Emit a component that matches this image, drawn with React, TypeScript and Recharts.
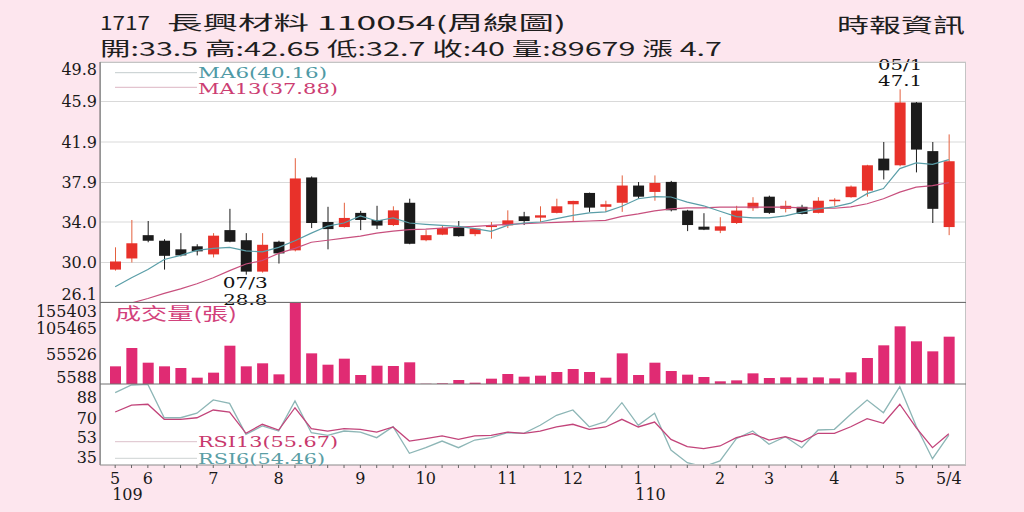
import React from 'react'
import { ComposedChart, Bar, Line, XAxis, YAxis, CartesianGrid } from 'recharts'

// 1717 長興材料, weekly candles, 109/5 .. 110/5
const X_LABELS = [
  '5', '', '6', '', '', '', '7', '', '', '', '8', '', '', '', '', '9', '', '', '', '10',
  '', '', '', '', '11', '', '', '', '12', '', '', '', '1', '', '', '', '', '2', '', '',
  '3', '', '', '', '4', '', '', '', '5', '', '', '5/4',
]
const YEAR_LABELS: Record<number, string> = { 0: '109', 32: '110' }

const OPEN = [
  29.3, 30.4, 32.7, 32.15, 31.3, 31.6, 30.8, 33.2, 32.2, 29.1, 32.05, 31.2, 38.4, 34.0, 33.5, 34.9, 34.2, 33.7, 35.9, 32.2,
  32.75, 33.5, 32.8, 33.5, 33.67, 34.56, 34.43, 34.9, 35.75, 36.87, 35.5, 35.9, 37.6, 36.97, 37.96, 35.13, 33.54, 33.14, 33.9, 35.36,
  36.5, 35.3, 35.5, 34.9, 36.05, 36.45, 37.1, 40.26, 39.6, 45.8, 41.0, 33.5,
]
const HIGH = [
  31.5, 34.2, 34.1, 32.3, 32.9, 31.8, 32.9, 35.3, 32.9, 32.9, 32.15, 40.3, 38.5, 35.5, 35.9, 35.1, 35.6, 35.55, 36.3, 33.2,
  33.7, 34.1, 33.4, 34.0, 35.15, 35.0, 35.55, 36.3, 36.1, 36.9, 36.1, 38.6, 37.95, 38.6, 38.06, 35.2, 34.87, 34.47, 35.6, 36.45,
  36.6, 36.1, 35.7, 36.45, 36.35, 37.6, 39.65, 41.9, 47.1, 45.85, 41.9, 42.65,
]
const LOW = [
  29.2, 30.0, 32.0, 29.3, 30.6, 30.7, 30.5, 32.0, 28.8, 29.0, 29.9, 31.1, 33.4, 31.3, 33.45, 33.2, 33.3, 33.6, 31.8, 32.1,
  32.7, 32.55, 32.6, 32.35, 33.4, 33.7, 34.0, 34.85, 34.1, 35.0, 35.0, 35.0, 36.3, 36.1, 35.05, 33.1, 33.2, 32.9, 33.8, 35.1,
  34.8, 34.95, 34.75, 34.85, 35.6, 36.4, 36.5, 38.2, 39.5, 38.9, 33.9, 32.7,
]
const CLOSE = [
  30.1, 31.9, 32.15, 30.66, 30.7, 31.1, 32.65, 32.05, 29.1, 31.75, 30.9, 38.3, 33.9, 33.3, 34.4, 34.2, 33.65, 35.15, 31.85, 32.7,
  33.4, 32.6, 33.35, 33.67, 34.16, 34.1, 34.66, 35.55, 36.08, 35.42, 35.75, 37.6, 36.5, 37.86, 35.16, 33.7, 33.24, 33.57, 35.13, 35.9,
  34.9, 35.6, 34.8, 36.1, 36.2, 37.5, 39.6, 39.1, 45.8, 41.15, 35.3, 40,
]
const MA6 = [
  27.6, 28.5, 29.3, 30.3, 30.7, 31.2, 31.4, 31.5, 31.15, 31.05, 31.5, 32.15, 32.9, 33.6, 33.9, 34.6, 34.1, 34.4, 33.9, 33.77,
  33.67, 33.57, 33.34, 33.08, 33.67, 33.9, 34.0, 34.33, 34.66, 34.9, 35.0, 35.55, 36.3, 36.5, 36.47, 35.96, 35.6, 35.06, 34.53, 34.4,
  34.4, 34.6, 34.97, 35.3, 35.5, 35.86, 36.8, 37.3, 39.27, 39.83, 39.7, 40.16,
]
const MA13 = [
  25.6, 26.0, 26.45, 26.95, 27.4, 27.9, 28.5, 29.2, 29.85, 30.2, 30.9, 31.4, 32.0, 32.2, 32.4, 32.6, 32.9, 33.1, 33.25, 33.3,
  33.4, 33.5, 33.57, 33.67, 33.77, 33.83, 33.9, 33.97, 34.03, 34.1, 34.16, 34.56, 34.8, 35.1, 35.3, 35.4, 35.4, 35.46, 35.46, 35.46,
  35.46, 35.46, 35.4, 35.36, 35.36, 35.5, 35.8, 36.3, 36.95, 37.45, 37.6, 37.88,
]
const VOLUME = [
  33500, 68200, 40400, 33500, 30300, 12000, 21500, 72600, 33500, 39200, 18300, 155403, 58100, 36600, 48000, 17100, 34700, 34100, 41100, 500,
  1300, 7600, 2500, 10100, 19000, 13900, 15800, 22700, 28400, 22700, 12000, 58100, 17100, 40400, 24600, 17700, 13300, 5100, 6900, 20200,
  11400, 12600, 12000, 12600, 10700, 22100, 49300, 73300, 109300, 80900, 61900, 89679,
]
const RSI6 = [
  92.3, 99.1, 99.6, 70.0, 70.0, 74.0, 85.8, 82.8, 55.3, 62.7, 58.2, 84.9, 56.7, 54.4, 58.2, 57.3, 52.3, 62.0, 38.4, 43.4,
  49.3, 43.4, 50.2, 52.3, 56.7, 56.2, 63.3, 72.2, 76.9, 62.0, 66.5, 83.4, 63.3, 74.0, 41.3, 30.0, 26.5, 31.6, 51.4, 58.2,
  46.4, 53.2, 43.4, 59.1, 59.7, 73.1, 85.8, 74.5, 97.6, 62.7, 33.6, 54.46,
]
const RSI13 = [
  75.1, 81.3, 82.0, 68.6, 68.6, 70.0, 76.9, 75.1, 56.2, 64.2, 59.1, 78.9, 60.3, 58.2, 60.3, 59.7, 57.3, 61.8, 49.3, 51.4,
  53.8, 50.8, 53.8, 54.4, 57.3, 56.2, 58.2, 61.8, 64.2, 59.7, 61.8, 68.6, 61.8, 66.2, 50.8, 44.3, 42.5, 44.9, 52.3, 55.8,
  50.2, 53.2, 48.7, 56.2, 56.2, 62.0, 69.2, 65.1, 82.0, 61.2, 43.4, 55.67,
]

const PRICE_TICKS = [26.1, 30.0, 34.0, 37.9, 41.9, 45.9, 49.8]
const VOL_TICKS = [5588, 55526, 105465, 155403]
const RSI_TICKS = [35, 53, 70, 88]

const LOW_MARK = { index: 8, date: '07/3', value: '28.8' }
const HIGH_MARK = { index: 48, date: '05/1', value: '47.1' }

const data = OPEN.map((o, i) => ({
  i,
  open: o,
  high: HIGH[i],
  low: LOW[i],
  close: CLOSE[i],
  range: [LOW[i], HIGH[i]],
  ma6: MA6[i],
  ma13: MA13[i],
  vol: VOLUME[i],
  rsi6: RSI6[i],
  rsi13: RSI13[i],
}))

const BG = '#fde6ee'
const RED = '#e8312a'
const WICK_RED = '#e4603e'
const BLACK = '#1b1b1b'
const NUM_FONT = '"DejaVu Serif", serif'
const CJK_FONT = '"Noto Sans CJK TC", sans-serif'
const MARGIN = { top: 0, right: 58, bottom: 0, left: 0 }
const PAD = { left: 7, right: 9 }

function Candle(props: any) {
  const { x, y, width, height, payload, index } = props
  const top = Math.min(y, y + height)
  const bot = Math.max(y, y + height)
  const k = (bot - top) / (payload.high - payload.low)
  const py = (v: number) => top + (payload.high - v) * k
  const up = payload.close >= payload.open
  const cx = x + width / 2
  const bTop = py(Math.max(payload.open, payload.close))
  const bBot = py(Math.min(payload.open, payload.close))
  const label = { fontFamily: NUM_FONT, fontSize: 14, fill: '#111', textAnchor: 'middle' as const }
  return (
    <g>
      <line x1={cx} x2={cx} y1={top} y2={bot} stroke={up ? WICK_RED : BLACK} strokeWidth={1} />
      <rect x={x} y={bTop} width={width} height={Math.max(1.5, bBot - bTop)} fill={up ? RED : BLACK} />
      {index === LOW_MARK.index && (
        <g>
          <text x={cx - 1} y={bot + 13.5} {...label} textLength={45} lengthAdjust="spacingAndGlyphs">{LOW_MARK.date}</text>
          <text x={cx - 1} y={bot + 30} {...label} textLength={44} lengthAdjust="spacingAndGlyphs">{LOW_MARK.value}</text>
        </g>
      )}
      {index === HIGH_MARK.index && (
        <g>
          <text x={cx} y={top - 19.5} {...label} textLength={44} lengthAdjust="spacingAndGlyphs">{HIGH_MARK.date}</text>
          <text x={cx} y={top - 3} {...label} textLength={44} lengthAdjust="spacingAndGlyphs">{HIGH_MARK.value}</text>
        </g>
      )}
    </g>
  )
}

const yTick = (lo: number, hi: number, fmt: (v: number) => string) => (props: any) => {
  const { x, y, payload } = props
  const yy = Math.min(Math.max(y, lo), hi)
  return (
    <text x={x} y={yy} dy="0.36em" textAnchor="end" fontFamily={NUM_FONT} fontSize={16} fill="#1a1a1a">
      {fmt(payload.value)}
    </text>
  )
}

function MonthTick(props: any) {
  const { x, y, payload } = props
  const i = payload.value as number
  const m = X_LABELS[i]
  const yr = YEAR_LABELS[i]
  return (
    <g>
      <line x1={x} x2={x} y1={y} y2={y + 3} stroke="#666" />
      {m && (
        <text x={x} y={y + 18.5} textAnchor="middle" fontFamily={NUM_FONT} fontSize={16} fill="#1a1a1a">{m}</text>
      )}
      {yr && (
        <text x={x - 3} y={y + 34.5} textAnchor="start" fontFamily={NUM_FONT} fontSize={16} fill="#1a1a1a">{yr}</text>
      )}
    </g>
  )
}

export default function App() {
  return (
    <div style={{ position: 'absolute', left: 0, top: 0, width: 1024, height: 512, background: BG, overflow: 'hidden' }}>
      <div style={{ position: 'absolute', left: 100, top: 62, width: 866, height: 403, background: '#fff' }} />

      {/* volume */}
      <div style={{ position: 'absolute', left: 0, top: 302 }}>
        <ComposedChart width={1024} height={92} data={data} margin={{ ...MARGIN, bottom: 10 }}>
          <XAxis dataKey="i" hide scale="band" padding={PAD} />
          <YAxis
            width={100}
            domain={[0, 155403]}
            ticks={VOL_TICKS}
            interval={0}
            allowDataOverflow
            axisLine={false}
            tickLine={false}
            tickSize={0}
            tickMargin={3}
            tick={yTick(9, 75, (v) => String(v))}
          />
          <Bar dataKey="vol" fill="#e02b73" barSize={11} isAnimationActive={false} />
        </ComposedChart>
      </div>

      {/* RSI */}
      <div style={{ position: 'absolute', left: 0, top: 384 }}>
        <ComposedChart width={1024} height={128} data={data} margin={MARGIN}>
          <XAxis
            dataKey="i"
            scale="band"
            padding={PAD}
            interval={0}
            height={47}
            tickSize={0}
            tickMargin={0}
            tickLine={false}
            axisLine={{ stroke: '#8a8a8a' }}
            tick={<MonthTick />}
          />
          <YAxis
            width={100}
            domain={[28, 100]}
            ticks={RSI_TICKS}
            interval={0}
            allowDataOverflow
            axisLine={false}
            tickLine={false}
            tickSize={0}
            tickMargin={3}
            tick={yTick(9, 74, (v) => String(v))}
          />
          <Line dataKey="rsi6" stroke="#8db6b6" strokeWidth={1.3} dot={false} isAnimationActive={false} />
          <Line dataKey="rsi13" stroke="#c2447a" strokeWidth={1.3} dot={false} isAnimationActive={false} />
        </ComposedChart>
      </div>

      {/* price */}
      <div style={{ position: 'absolute', left: 0, top: 40 }}>
        <ComposedChart width={1024} height={280} data={data} margin={{ ...MARGIN, top: 22, bottom: 18 }}>
          <CartesianGrid vertical={false} stroke="#d9d9d9" />
          <XAxis dataKey="i" hide scale="band" padding={PAD} />
          <YAxis
            width={100}
            domain={[26.1, 49.8]}
            ticks={PRICE_TICKS}
            interval={0}
            allowDataOverflow
            axisLine={false}
            tickLine={false}
            tickSize={0}
            tickMargin={3}
            tick={yTick(29, 254, (v) => v.toFixed(1))}
          />
          <YAxis yAxisId="c" hide domain={[26.1, 49.8]} />
          <Bar yAxisId="c" dataKey="range" barSize={11} shape={(p: any) => <Candle {...p} />} isAnimationActive={false} />
          <Line dataKey="ma13" stroke="#c8507e" strokeWidth={1.2} dot={false} isAnimationActive={false} />
          <Line dataKey="ma6" stroke="#5a9ea8" strokeWidth={1.2} dot={false} isAnimationActive={false} />
        </ComposedChart>
      </div>

      <svg width={1024} height={512} style={{ position: 'absolute', left: 0, top: 0, pointerEvents: 'none' }}>
        {/* frame */}
        <rect x={100.5} y={62.5} width={865} height={402} fill="none" stroke="#c4c4c4" />
        <line x1={100} x2={100} y1={62} y2={465} stroke="#666" />
        <line x1={100} x2={966} y1={302.5} y2={302.5} stroke="#707070" />
        <line x1={100} x2={966} y1={384} y2={384} stroke="#707070" />

        {/* header */}
        <g fontFamily={CJK_FONT} fontSize={19} fill="#1e1e1e">
          <text x={100} y={30} textLength={50} lengthAdjust="spacingAndGlyphs">1717</text>
          <text x={167} y={30} textLength={399} lengthAdjust="spacingAndGlyphs">長興材料 110054(周線圖)</text>
          <text x={100} y={55.5} textLength={622} lengthAdjust="spacingAndGlyphs">開:33.5 高:42.65 低:32.7 收:40 量:89679 漲 4.7</text>
          <text x={837} y={33} fontSize={20} textLength={128} lengthAdjust="spacingAndGlyphs">時報資訊</text>
        </g>

        {/* legends */}
        <line x1={115} x2={197} y1={72.7} y2={72.7} stroke="#c3cccd" />
        <text x={198} y={78} fontFamily={NUM_FONT} fontSize={15} fill="#4f9aa5" textLength={129} lengthAdjust="spacingAndGlyphs">MA6(40.16)</text>
        <line x1={115} x2={197} y1={87.3} y2={87.3} stroke="#dcb6c4" />
        <text x={198} y={93.5} fontFamily={NUM_FONT} fontSize={15} fill="#cc3d72" textLength={140} lengthAdjust="spacingAndGlyphs">MA13(37.88)</text>

        <text x={115} y={319.5} fontFamily={CJK_FONT} fontSize={17} fill="#d2427c" textLength={122} lengthAdjust="spacingAndGlyphs">成交量(張)</text>

        <line x1={115} x2={197} y1={441.7} y2={441.7} stroke="#dcc0cb" />
        <text x={198} y={446.5} fontFamily={NUM_FONT} fontSize={15} fill="#c8386c" textLength={140} lengthAdjust="spacingAndGlyphs">RSI13(55.67)</text>
        <line x1={115} x2={197} y1={458.3} y2={458.3} stroke="#cdd2d2" />
        <text x={198} y={464} fontFamily={NUM_FONT} fontSize={15} fill="#5a9ea5" textLength={127} lengthAdjust="spacingAndGlyphs">RSI6(54.46)</text>
      </svg>
    </div>
  )
}
